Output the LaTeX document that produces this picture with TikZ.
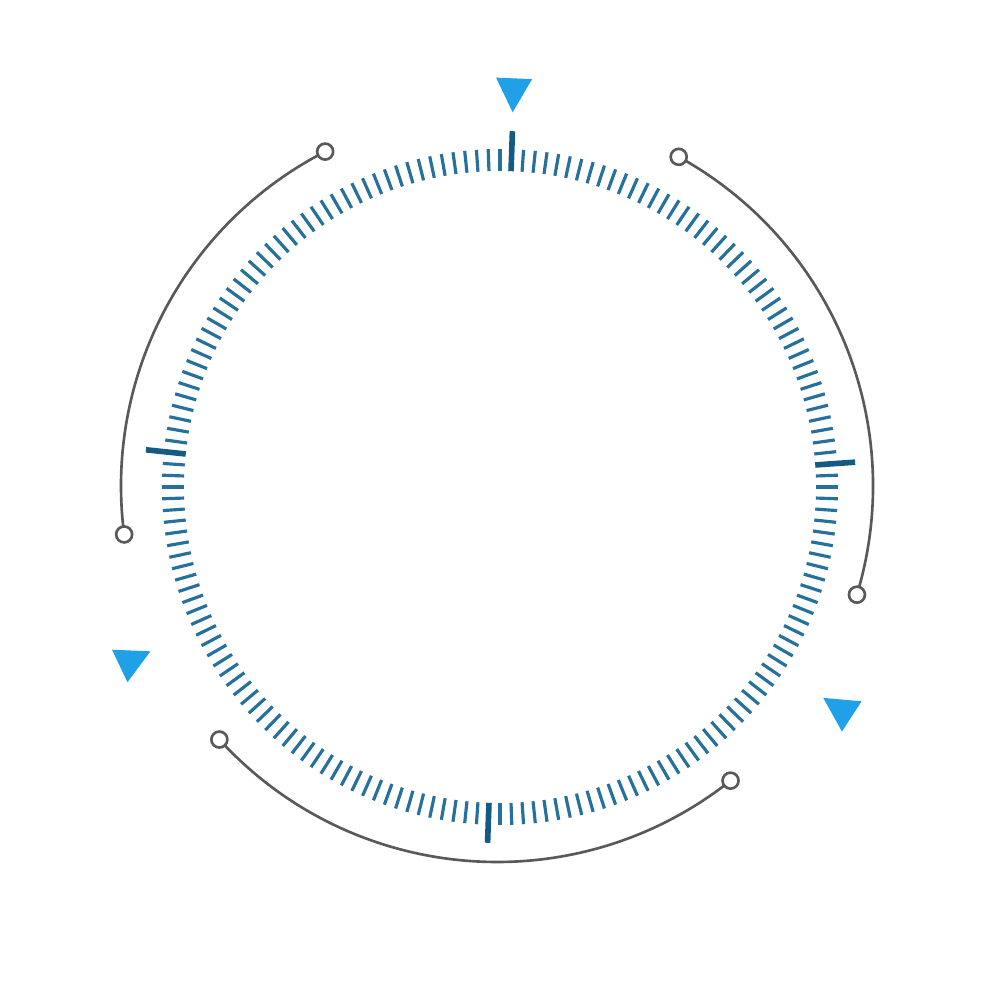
\documentclass[tikz,border=0pt]{standalone}
\usetikzlibrary{calc}
\begin{document}
\begin{tikzpicture}[x=0.01cm,y=-0.01cm,
  arcline/.style={draw=black!65,line width=0.75pt},
  endpt/.style={circle,draw=black!65,fill=white,line width=0.75pt,inner sep=0pt,minimum size=0.16cm},
  minortick/.style={line width=0.9pt,color={rgb,255:red,38;green,112;blue,156}},
  majortick/.style={line width=1.6pt,color={rgb,255:red,20;green,90;blue,130}},
  pointer/.style={fill={rgb,255:red,32;green,160;blue,230}}]
\useasboundingbox (0,0) rectangle (1000,1000);
\coordinate (c) at (500,487);
\foreach \i in {0,...,179}{
  \pgfmathsetmacro{\a}{-(88-\i*2)}
  \ifnum\i=0 \def\maj{1}\else\ifnum\i=42 \def\maj{1}\else\ifnum\i=90 \def\maj{1}\else\ifnum\i=137 \def\maj{1}\else\def\maj{0}\fi\fi\fi\fi
  \ifnum\maj=1
    \draw[majortick] ($(c)+(\a:316)$) -- ($(c)+(\a:356)$);
  \else
    \draw[minortick] ($(c)+(\a:316)$) -- ($(c)+(\a:338)$);
  \fi
}
\coordinate (o) at (497,486);
\coordinate (a1s) at ($(o)+(-117.2:376)$);
\coordinate (a1e) at ($(o)+(-187.4:376)$);
\coordinate (a2s) at ($(o)+(-61.1:376)$);
\coordinate (a2e) at ($(o)+(16.8:376)$);
\coordinate (a3s) at ($(o)+(-222.4:376)$);
\coordinate (a3e) at ($(o)+(-308.4:376)$);
\draw[arcline] (a1s) arc[start angle=-117.2,end angle=-187.4,radius=376];
\draw[arcline] (a2s) arc[start angle=-61.1,end angle=16.8,radius=376];
\draw[arcline] (a3s) arc[start angle=-222.4,end angle=-308.4,radius=376];
\node[endpt] (e1) at (a1s) {};\node[endpt] (e2) at (a1e) {};
\node[endpt] (e3) at (a2s) {};\node[endpt] (e4) at (a2e) {};
\node[endpt] (e5) at (a3s) {};\node[endpt] (e6) at (a3e) {};
\foreach \ang/\r in {-87.6/390, -205.5/400, -327/405}{
  \fill[pointer] ($(o)+(\ang:\r-16)$) -- ($(o)+(\ang:\r+18)+(\ang+90:18)$) -- ($(o)+(\ang:\r+18)+(\ang-90:18)$) -- cycle;
}
\end{tikzpicture}
\end{document}
